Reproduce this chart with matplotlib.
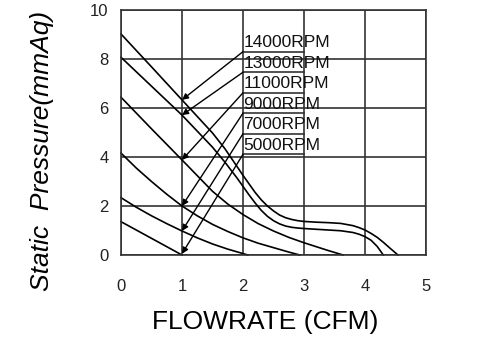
import numpy as np
import matplotlib
matplotlib.use('Agg')
import matplotlib.pyplot as plt

plt.rcParams['font.family'] = ['Liberation Sans', 'DejaVu Sans']

# fan curves (flow CFM, pressure mmAq)
x14000 = [0, 0.5, 1.0, 1.5, 1.7, 1.9, 2.0, 2.1, 2.2, 2.3, 2.4, 2.5, 2.6, 2.7, 2.8, 2.9, 3.0, 3.2, 3.4, 3.6, 3.8, 3.9, 4.0, 4.1, 4.2, 4.3, 4.4, 4.54]
y14000 = [9.02, 7.68, 6.33, 4.98, 4.35, 3.62, 3.25, 2.9, 2.55, 2.25, 2.0, 1.8, 1.63, 1.52, 1.45, 1.4, 1.37, 1.34, 1.32, 1.29, 1.2, 1.12, 1.02, 0.88, 0.72, 0.52, 0.3, 0]
x13000 = [0, 0.5, 1.0, 1.5, 1.7, 1.9, 2.0, 2.1, 2.2, 2.3, 2.4, 2.5, 2.6, 2.7, 2.8, 2.9, 3.0, 3.2, 3.4, 3.6, 3.8, 3.9, 4.0, 4.1, 4.2, 4.3]
y13000 = [8.07, 6.89, 5.71, 4.4, 3.8, 3.15, 2.8, 2.45, 2.12, 1.82, 1.58, 1.4, 1.27, 1.18, 1.13, 1.1, 1.08, 1.05, 1.02, 0.99, 0.92, 0.85, 0.75, 0.6, 0.35, 0]
x11000 = [0, 0.5, 1.0, 1.5, 1.75, 2.0, 2.25, 2.5, 2.75, 3.0, 3.2, 3.4, 3.64]
y11000 = [6.44, 5.15, 3.88, 2.6, 2.08, 1.65, 1.28, 0.98, 0.72, 0.5, 0.34, 0.18, 0]
x9000 = [0, 0.25, 0.5, 0.75, 1.0, 1.25, 1.5, 1.75, 2.0, 2.25, 2.5, 2.75, 2.93]
y9000 = [4.16, 3.55, 3.0, 2.48, 2.0, 1.6, 1.25, 0.96, 0.7, 0.48, 0.3, 0.12, 0]
x7000 = [0, 0.25, 0.5, 0.75, 1.0, 1.25, 1.5, 1.75, 2.08]
y7000 = [2.34, 1.95, 1.6, 1.28, 0.98, 0.7, 0.45, 0.24, 0]
x5000 = [0, 0.5, 1.0]
y5000 = [1.36, 0.68, 0.0]

labels = ['14000RPM', '13000RPM', '11000RPM', '9000RPM', '7000RPM', '5000RPM']
label_y = [8.30, 7.46, 6.62, 5.79, 4.95, 4.11]
arrow_tip = [6.33, 5.71, 3.88, 2.0, 0.98, 0.05]

fig = plt.figure(figsize=(4.85, 3.57), dpi=100)
ax = fig.add_axes([121/485, 1-255/357, 305/485, 245/357])

gridc = '#333333'
ax.set_xlim(0, 5)
ax.set_ylim(0, 10)
ax.set_xticks([0, 1, 2, 3, 4, 5])
ax.set_yticks([0, 2, 4, 6, 8, 10])
ax.grid(True, color=gridc, lw=1.2)
ax.set_axisbelow(True)
for s in ax.spines.values():
    s.set_color(gridc)
    s.set_linewidth(1.2)
ax.tick_params(axis='x', length=0, pad=17, labelsize=12, colors='#222222')
ax.tick_params(axis='y', length=0, pad=9, labelsize=12, colors='#222222')

for xs, ys in [(x14000, y14000), (x13000, y13000), (x11000, y11000),
               (x9000, y9000), (x7000, y7000), (x5000, y5000)]:
    ax.plot(xs, ys, color='black', lw=1.2, clip_on=False)

for lab, ly, tip in zip(labels, label_y, arrow_tip):
    ax.plot([2, 3], [ly, ly], color=gridc, lw=1.2)
    ax.text(2.01, ly + 0.06, lab, fontsize=12.5, va='bottom', ha='left', color='#111111')
    ax.annotate('', xy=(1, tip), xytext=(2, ly),
                arrowprops=dict(arrowstyle='-|>', color='black', lw=1.0,
                                mutation_scale=9, shrinkA=0, shrinkB=0))

fig.text(265/485, 1-322/357, 'FLOWRATE (CFM)', fontsize=19, ha='center', va='center')
fig.text(42/485, 1-151/357, 'Static  Pressure(mmAq)', fontsize=19, style='italic',
         rotation=90, ha='center', va='center')

plt.savefig('out.png', dpi=100)
plt.close()
